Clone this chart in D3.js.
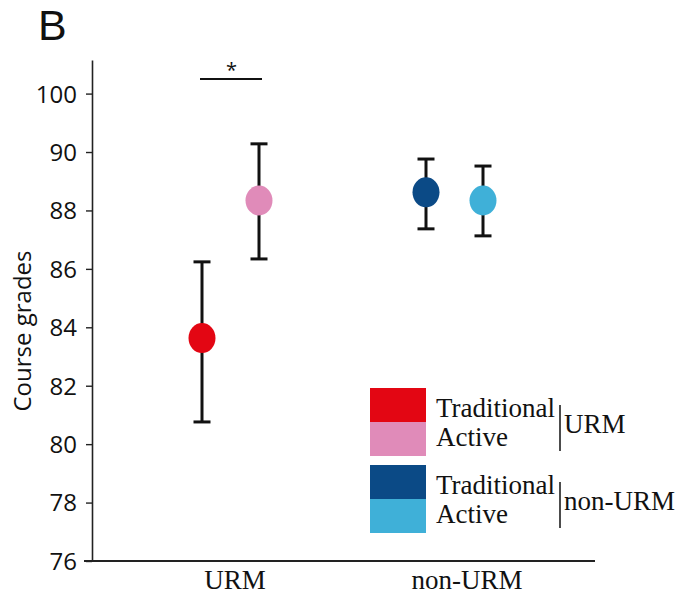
<!DOCTYPE html>
<html><head><meta charset="utf-8">
<script src="https://cdn.jsdelivr.net/npm/d3@7/dist/d3.min.js"></script>
<style>body{margin:0;background:#fff}svg{display:block}</style>
</head><body>
<script>
const groups = ["URM", "non-URM"];
const methods = ["Traditional", "Active"];
const means = [[83.63, 88.34], [88.62, 88.34]];
const upper = [[86.24, 90.28], [89.76, 89.52]];
const lower = [[80.76, 86.34], [87.37, 87.13]];
const colors = [["#e30613", "#e08bb9"], ["#0b4a86", "#3fb0d8"]];
const yTickValues = [76, 78, 80, 82, 84, 86, 88, 90, 92];
const yTickLabels = ["76", "78", "80", "82", "84", "86", "88", "90", "100"];
const yTitle = "Course grades";
const panelLabel = "B";
const sigMark = "*";
const sigLevel = 92.5;

const W = 687, H = 597;
const svg = d3.select("body").append("svg").attr("width", W).attr("height", H);

const y = d3.scaleLinear().domain([76, 93.15]).range([561, 60]);
const xg = d3.scalePoint().domain(groups).range([231, 455]);
const xm = d3.scalePoint().domain(methods).range([-29, 28]);
const px = (gi, mi) => xg(groups[gi]) + xm(methods[mi]);

// panel label
svg.append("text").attr("x", 38).attr("y", 40).attr("font-family", "Liberation Sans, sans-serif")
  .attr("font-size", 43).attr("fill", "#111").text(panelLabel);

// y axis
const yAxis = svg.append("g").attr("transform", "translate(92,0)")
  .call(d3.axisLeft(y).tickValues(yTickValues).tickFormat((d, i) => yTickLabels[i]).tickSize(6).tickSizeOuter(0));
yAxis.select(".domain").attr("stroke", "#222").attr("stroke-width", 1.6);
yAxis.selectAll(".tick line").attr("stroke", "#222").attr("stroke-width", 1.4);
yAxis.selectAll(".tick text").attr("font-family", "Open Sans, sans-serif").attr("font-size", 24)
  .attr("fill", "#111").attr("x", -15).attr("dy", "0.35em");

// x axis line
svg.append("line").attr("x1", 84).attr("x2", 595).attr("y1", y(76)).attr("y2", y(76))
  .attr("stroke", "#222").attr("stroke-width", 1.8);
svg.selectAll(".xlab").data(groups).join("text").attr("class", "xlab")
  .attr("x", (d, i) => xg(d) + (i === 0 ? 4 : 12)).attr("y", 589).attr("text-anchor", "middle")
  .attr("font-family", "Liberation Serif, serif").attr("font-size", 27).attr("fill", "#111").text(d => d);

// y title
svg.append("text").attr("transform", "translate(31,331) rotate(-90)").attr("text-anchor", "middle")
  .attr("font-family", "Open Sans, sans-serif").attr("font-size", 24).attr("fill", "#111").text(yTitle);

// points
const pts = [];
groups.forEach((g, gi) => methods.forEach((m, mi) => pts.push({gi, mi})));
const eb = svg.append("g").attr("stroke", "#111").attr("stroke-width", 3);
pts.forEach(p => {
  const cx = px(p.gi, p.mi);
  eb.append("line").attr("x1", cx).attr("x2", cx).attr("y1", y(upper[p.gi][p.mi])).attr("y2", y(lower[p.gi][p.mi]));
  eb.append("line").attr("x1", cx - 8.5).attr("x2", cx + 8.5).attr("y1", y(upper[p.gi][p.mi])).attr("y2", y(upper[p.gi][p.mi]));
  eb.append("line").attr("x1", cx - 8.5).attr("x2", cx + 8.5).attr("y1", y(lower[p.gi][p.mi])).attr("y2", y(lower[p.gi][p.mi]));
});
svg.selectAll(".pt").data(pts).join("ellipse").attr("class", "pt")
  .attr("cx", d => px(d.gi, d.mi)).attr("cy", d => y(means[d.gi][d.mi]))
  .attr("rx", 13.5).attr("ry", 15).attr("fill", d => colors[d.gi][d.mi]);

// significance bracket
svg.append("line").attr("x1", px(0, 0) - 2).attr("x2", px(0, 1) + 3).attr("y1", y(sigLevel)).attr("y2", y(sigLevel))
  .attr("stroke", "#111").attr("stroke-width", 2.2);
svg.append("text").attr("x", (px(0, 0) + px(0, 1)) / 2 + 1).attr("y", y(sigLevel) - 2).attr("text-anchor", "middle")
  .attr("font-family", "Open Sans, sans-serif").attr("font-size", 20).attr("fill", "#111").text(sigMark);

// legend
const lg = svg.append("g");
const legTop = [388, 465];
groups.forEach((g, gi) => {
  methods.forEach((m, mi) => {
    lg.append("rect").attr("x", 370).attr("y", legTop[gi] + mi * 34).attr("width", 56).attr("height", 34)
      .attr("fill", colors[gi][mi]);
    lg.append("text").attr("x", 436).attr("y", legTop[gi] + 29 + mi * 29)
      .attr("font-family", "Liberation Serif, serif").attr("font-size", 27).attr("fill", "#111").text(m);
  });
  lg.append("line").attr("x1", 560).attr("x2", 560).attr("y1", legTop[gi] + 17).attr("y2", legTop[gi] + 63)
    .attr("stroke", "#111").attr("stroke-width", 1.5);
  lg.append("text").attr("x", 564).attr("y", legTop[gi] + 45)
    .attr("font-family", "Liberation Serif, serif").attr("font-size", 27).attr("fill", "#111").text(g);
});
</script>
</body></html>
